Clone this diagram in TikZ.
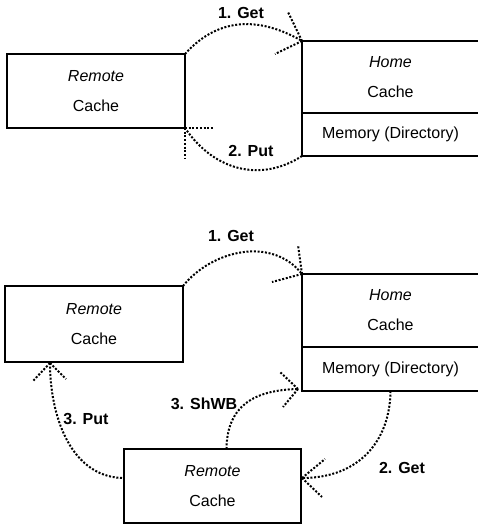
\documentclass[tikz,border=0pt]{standalone}
\usepackage{fontspec}
\setmainfont{Liberation Sans}
\usetikzlibrary{calc}

\tikzset{
  cachebox/.style={draw, line width=0.6pt, align=center, inner sep=0pt, outer sep=0pt, font=\fontsize{8}{15}\selectfont},
  flow/.style={line width=1pt, dash pattern=on 1pt off 0.85pt},
  msg/.style={font=\fontsize{8}{10}\selectfont\bfseries},
}

\begin{document}
\begin{tikzpicture}[x=0.5pt, y=-0.5pt]
    \useasboundingbox (0,0) rectangle (477,524);

    % Top: Remote and Home caches
    \node[cachebox, minimum width=89pt, minimum height=37pt] (rc1) at (96,91) {\textit{Remote}\\Cache};
    \node[cachebox, minimum width=88.5pt, minimum height=36pt] (hc1) at (390.5,77) {\textit{Home}\\Cache};
    \node[cachebox, minimum width=88.5pt, minimum height=21.5pt, anchor=north] (md1) at (hc1.south) {Memory (Directory)};

    % Top: Get and Put
    \draw[flow] (rc1.north east) .. controls (220,15) and (262,18) .. (hc1.north west);
    \draw[flow] (hc1.north west) -- ++(-14,-29);
    \draw[flow] (hc1.north west) -- ++(-27,13);
    \draw[flow] (md1.south west) .. controls (262,182) and (215,172) .. (rc1.south east);
    \draw[flow] (rc1.south east) -- ++(28,0);
    \draw[flow] (rc1.south east) -- ++(0,30);
    \node[msg] (get1) at (241,13) {1. Get};
    \node[msg] (put1) at (251,151) {2. Put};

    % Bottom: two Remote caches and the Home cache
    \node[cachebox, minimum width=89pt, minimum height=38pt] (rc2) at (94,324) {\textit{Remote}\\Cache};
    \node[cachebox, minimum width=88.5pt, minimum height=36.5pt] (hc2) at (390.5,310.5) {\textit{Home}\\Cache};
    \node[cachebox, minimum width=88.5pt, minimum height=22pt, anchor=north] (md2) at (hc2.south) {Memory (Directory)};
    \node[cachebox, minimum width=88.5pt, minimum height=37pt] (rc3) at (212.5,486) {\textit{Remote}\\Cache};

    % Bottom: tips of the flows
    \coordinate (tget) at ($(rc3.east)+(1,-8)$);
    \coordinate (tshwb) at ($(md2.south west)+(-4,-2)$);
    \coordinate (tput) at ($(rc2.south west)+(45,1)$);

    % Bottom: Get, Get, ShWB and Put
    \draw[flow] (rc2.north east) .. controls (212,250) and (272,236) .. (hc2.north west);
    \draw[flow] (hc2.north west) -- ++(-4,-29);
    \draw[flow] (hc2.north west) -- ++(-30,8);
    \draw[flow] (md2.south) .. controls (390,440) and (360,478) .. (tget);
    \draw[flow] (tget) -- ++(23,-19);
    \draw[flow] (tget) -- ++(20,19);
    \draw[flow] ($(rc3.north)+(14,0)$) .. controls (227,405) and (255,390) .. (tshwb);
    \draw[flow] (tshwb) -- ++(-18,-17);
    \draw[flow] (tshwb) -- ++(-15,18);
    \draw[flow] ($(rc3.west)+(-2,-8)$) .. controls (70,476) and (50,415) .. (tput);
    \draw[flow] (tput) -- ++(-17,18);
    \draw[flow] (tput) -- ++(16,16);
    \node[msg] (get2) at (231,236) {1. Get};
    \node[msg] (get3) at (402,468) {2. Get};
    \node[msg] (shwb) at (204,404) {3. ShWB};
    \node[msg] (put2) at (86,419) {3. Put};

\end{tikzpicture}
\end{document}
